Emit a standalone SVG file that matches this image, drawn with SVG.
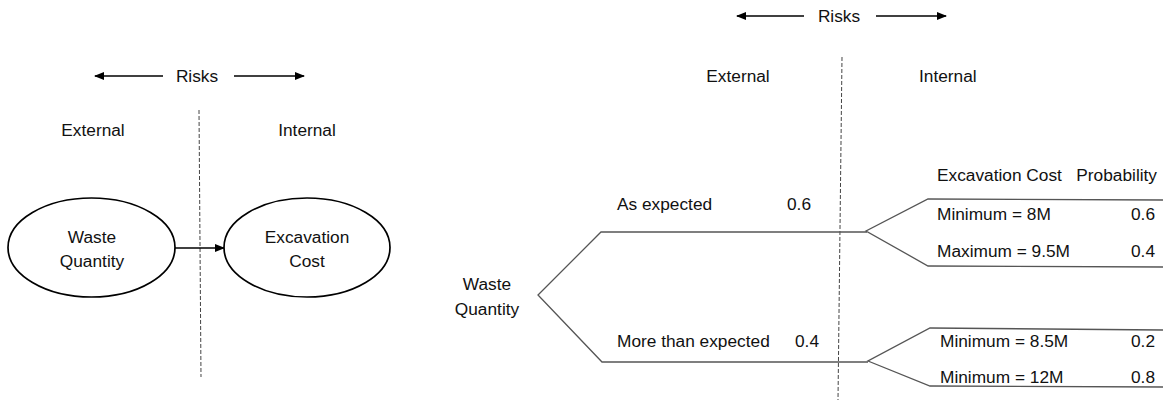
<svg xmlns="http://www.w3.org/2000/svg" width="1169" height="400" viewBox="0 0 1169 400">
<style>
text{font-family:"Liberation Sans",Arial,sans-serif;font-size:17.3px;fill:#111}
.m{text-anchor:middle}
.e{text-anchor:end}
.ar{stroke:#000;stroke-width:1.3;fill:none}
.dash{stroke:#444;stroke-width:1;stroke-dasharray:4 2;fill:none}
.node{fill:#fff;stroke:#000;stroke-width:1.7}
.br{stroke:#555;stroke-width:1.3;fill:none}
</style>
<defs>
<marker id="ah" markerWidth="10" markerHeight="8" refX="9" refY="4" orient="auto" markerUnits="userSpaceOnUse">
<path d="M0,0 L10,4 L0,8 z" fill="#000"/>
</marker>
</defs>
<rect width="1169" height="400" fill="#fff"/>

<!-- Left diagram -->
<g id="risks-left">
<line class="ar" x1="163" y1="76" x2="95" y2="76" marker-end="url(#ah)"/>
<text x="197" y="82" class="m">Risks</text>
<line class="ar" x1="234" y1="76" x2="304" y2="76" marker-end="url(#ah)"/>
</g>
<line class="dash" x1="199" y1="110" x2="201" y2="377"/>
<text x="93" y="136" class="m">External</text>
<text x="307" y="136" class="m">Internal</text>

<g id="connectors-left">
<line class="ar" x1="175" y1="248" x2="224" y2="248" marker-end="url(#ah)"/>
</g>
<g id="waste-quantity-node">
<ellipse class="node" cx="91.5" cy="247.5" rx="83.5" ry="49.5"/>
<text x="92" y="243" class="m">Waste</text>
<text x="92" y="267" class="m">Quantity</text>
</g>
<g id="excavation-cost-node">
<ellipse class="node" cx="307" cy="247.5" rx="83" ry="49.5"/>
<text x="307" y="243" class="m">Excavation</text>
<text x="307" y="267" class="m">Cost</text>
</g>

<!-- Right diagram -->
<g id="risks-right">
<line class="ar" x1="804" y1="16" x2="737" y2="16" marker-end="url(#ah)"/>
<text x="839" y="22" class="m">Risks</text>
<line class="ar" x1="876" y1="16" x2="946" y2="16" marker-end="url(#ah)"/>
</g>
<line class="dash" x1="842" y1="57" x2="838" y2="400"/>
<text x="738" y="82" class="m">External</text>
<text x="919" y="82">Internal</text>

<g id="tree">
<polyline class="br" points="867,232 601,232 538,295 602,362 868,362"/>
<polyline class="br" points="1163,200 928,199 866,231 928,266 1163,267"/>
<polyline class="br" points="1163,330 930,328 868,361 930,386 1163,387"/>
</g>

<g id="labels">
<text x="487" y="290" class="m">Waste</text>
<text x="487" y="315" class="m">Quantity</text>
<text x="617" y="210">As expected</text>
<text x="787" y="210">0.6</text>
<text x="617" y="347">More than expected</text>
<text x="795" y="347">0.4</text>
<text x="937" y="181">Excavation Cost</text>
<text x="1157" y="181" class="e">Probability</text>
<text x="937" y="220">Minimum = 8M</text>
<text x="1155" y="220" class="e">0.6</text>
<text x="937" y="257">Maximum = 9.5M</text>
<text x="1155" y="257" class="e">0.4</text>
<text x="940" y="347">Minimum = 8.5M</text>
<text x="1155" y="347" class="e">0.2</text>
<text x="940" y="383">Minimum = 12M</text>
<text x="1155" y="383" class="e">0.8</text>
</g>
</svg>
